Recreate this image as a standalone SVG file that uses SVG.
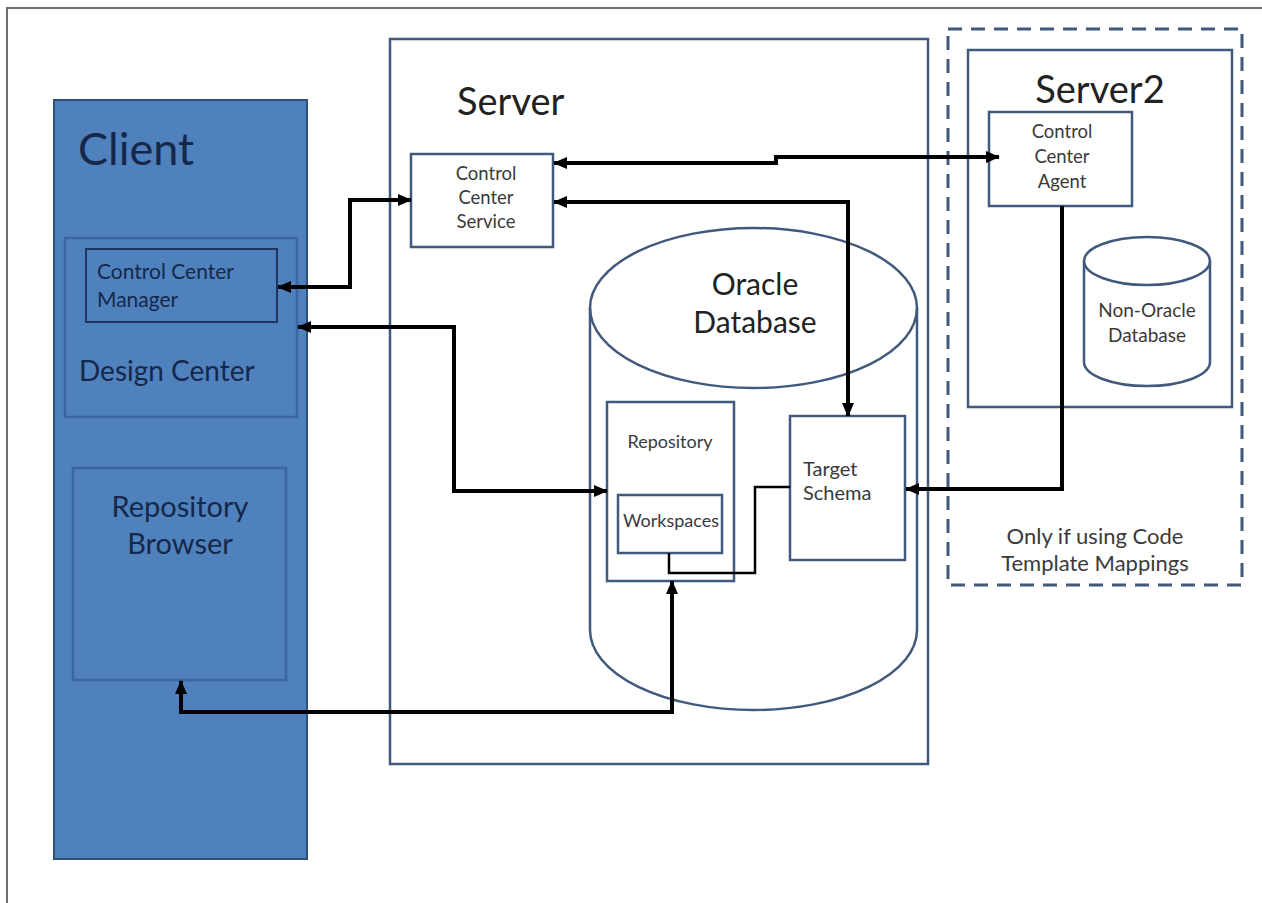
<svg xmlns="http://www.w3.org/2000/svg" width="1262" height="903" viewBox="0 0 1262 903">
  <style>
    text { font-family: Lato, "Open Sans", "Liberation Sans", sans-serif; }
    .frame { fill: none; stroke: #6e6e6e; stroke-width: 2; }
    .client { fill: #4F81BD; stroke: #2E4F7A; stroke-width: 2; }
    .inner { fill: #4F81BD; stroke: #3A679F; stroke-width: 2.5; }
    .ccm { fill: #4F81BD; stroke: #1F3560; stroke-width: 2; }
    .ctext { fill: #15284A; }
    .box { fill: #ffffff; stroke: #40597C; stroke-width: 2.5; }
    .nofill { fill: none; stroke: #40597C; stroke-width: 2.5; }
    .dash { fill: none; stroke: #40597C; stroke-width: 3; stroke-dasharray: 14 9; }
    .btext { fill: #3a3a3a; }
    .ttext { fill: #222222; }
    .conn { fill: none; stroke: #000000; stroke-width: 4; stroke-linejoin: miter; }
    .thin { fill: none; stroke: #000000; stroke-width: 2.5; }
  </style>
  <defs>
    <marker id="arr" markerUnits="userSpaceOnUse" markerWidth="14" markerHeight="14" viewBox="0 0 14 14" refX="13" refY="7" orient="auto-start-reverse">
      <path d="M0,1 L14,7 L0,13 Z" fill="#000"/>
    </marker>
  </defs>
  <rect width="1262" height="903" fill="#ffffff"/>
  <path class="frame" d="M7,903 V8 H1262"/>

  <g id="client">
    <rect class="client" x="54" y="100" width="253" height="759"/>
    <text class="ctext" x="78" y="165" font-size="45">Client</text>
  </g>
  <g id="design-center">
    <rect class="inner" x="65" y="238" width="232" height="179"/>
    <text class="ctext" x="79" y="381" font-size="28">Design Center</text>
  </g>
  <g id="control-center-manager">
    <rect class="ccm" x="86" y="249" width="191" height="73"/>
    <text class="ctext" x="97" y="279" font-size="21">Control Center</text>
    <text class="ctext" x="97" y="307" font-size="21">Manager</text>
  </g>
  <g id="repository-browser">
    <rect class="inner" x="73" y="468" width="213" height="212"/>
    <text class="ctext" x="180" y="517" font-size="29" text-anchor="middle">Repository</text>
    <text class="ctext" x="180" y="554" font-size="29" text-anchor="middle">Browser</text>
  </g>

  <g id="server">
    <rect class="box" x="390" y="39" width="538" height="725"/>
    <text class="ttext" x="457" y="115" font-size="38">Server</text>
  </g>
  <g id="control-center-service">
    <rect class="box" x="411" y="154" width="142" height="93"/>
    <text class="btext" x="486" y="180" font-size="18.5" text-anchor="middle">Control</text>
    <text class="btext" x="486" y="204" font-size="18.5" text-anchor="middle">Center</text>
    <text class="btext" x="486" y="228" font-size="18.5" text-anchor="middle">Service</text>
  </g>
  <g id="oracle-database">
    <path class="box" d="M590,308 A163.5,80 0 0 1 917,308 V630 A163.5,80 0 0 1 590,630 Z"/>
    <path class="nofill" d="M590,308 A163.5,80 0 0 0 917,308"/>
    <text class="ttext" x="755" y="295" font-size="30" text-anchor="middle">Oracle</text>
    <text class="ttext" x="755" y="333" font-size="30" text-anchor="middle">Database</text>
  </g>
  <g id="repository">
    <rect class="box" x="607" y="402" width="127" height="179"/>
    <text class="btext" x="670" y="448" font-size="18" text-anchor="middle">Repository</text>
  </g>
  <g id="workspaces">
    <rect class="box" x="618" y="495" width="104" height="58"/>
    <text class="btext" x="671" y="527" font-size="18" text-anchor="middle">Workspaces</text>
  </g>
  <g id="target-schema">
    <rect class="box" x="790" y="416" width="115" height="144"/>
    <text class="btext" x="803" y="476" font-size="20">Target</text>
    <text class="btext" x="803" y="500" font-size="20">Schema</text>
  </g>

  <g id="code-template-region">
    <rect class="dash" x="948" y="29" width="294" height="556"/>
    <text class="btext" x="1095" y="544" font-size="22" text-anchor="middle">Only if using Code</text>
    <text class="btext" x="1095" y="571" font-size="22" text-anchor="middle">Template Mappings</text>
  </g>
  <g id="server2">
    <rect class="box" x="968" y="50" width="264" height="357"/>
    <text class="ttext" x="1100" y="103" font-size="38" text-anchor="middle">Server2</text>
  </g>
  <g id="control-center-agent">
    <rect class="box" x="989" y="112" width="143" height="94"/>
    <text class="btext" x="1062" y="138" font-size="18.5" text-anchor="middle">Control</text>
    <text class="btext" x="1062" y="163" font-size="18.5" text-anchor="middle">Center</text>
    <text class="btext" x="1062" y="188" font-size="18.5" text-anchor="middle">Agent</text>
  </g>
  <g id="non-oracle-database">
    <path class="box" d="M1084,261 A63,24 0 0 1 1210,261 V362 A63,24 0 0 1 1084,362 Z"/>
    <path class="nofill" d="M1084,261 A63,24 0 0 0 1210,261"/>
    <text class="btext" x="1147" y="317" font-size="19" text-anchor="middle">Non-Oracle</text>
    <text class="btext" x="1147" y="342" font-size="19" text-anchor="middle">Database</text>
  </g>

  <g id="connectors">
    <path class="conn" d="M278,287 H350 V200 H411" marker-start="url(#arr)" marker-end="url(#arr)"/>
    <path class="conn" d="M298,327 H454 V491 H607" marker-start="url(#arr)" marker-end="url(#arr)"/>
    <path class="conn" d="M554,163 H776 V157 H999" marker-start="url(#arr)" marker-end="url(#arr)"/>
    <path class="conn" d="M554,202 H848 V416" marker-start="url(#arr)" marker-end="url(#arr)"/>
    <path class="conn" d="M1062,206 V489 H906" marker-end="url(#arr)"/>
    <path class="thin" d="M669,553 V573 H755 V487 H790"/>
    <path class="conn" d="M181,681 V712 H672 V581" marker-start="url(#arr)" marker-end="url(#arr)"/>
  </g>
</svg>
